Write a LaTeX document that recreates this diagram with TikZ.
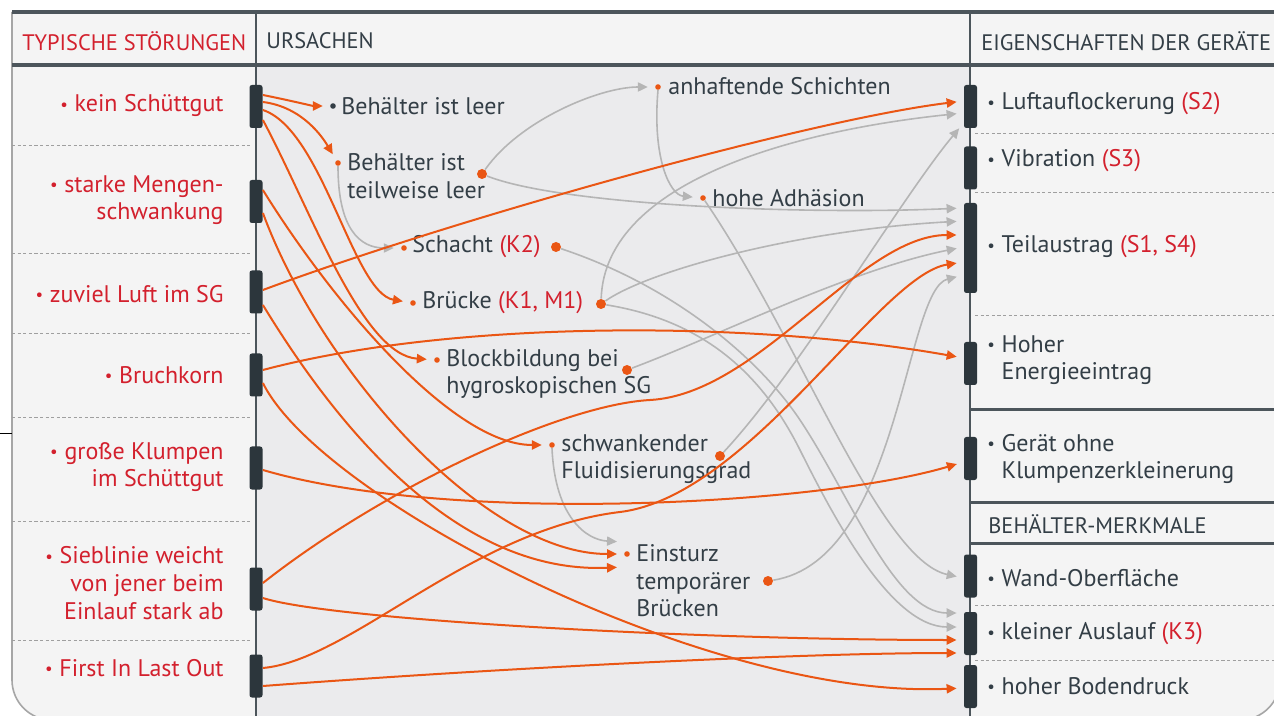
\documentclass[tikz,border=0pt]{standalone}
\usepackage{fontspec}
\setmainfont{PT Sans}
\usetikzlibrary{arrows.meta,positioning}

\definecolor{ink}{HTML}{333E46}
\definecolor{redtxt}{HTML}{D3202D}
\definecolor{flow}{HTML}{EA5614}
\definecolor{cause}{HTML}{B5B5B5}
\definecolor{rulec}{HTML}{4C555B}
\definecolor{panel}{HTML}{F4F4F4}
\definecolor{midpanel}{HTML}{EBEBED}
\definecolor{barc}{HTML}{2C363C}

\newcommand{\bul}{\raisebox{0.12ex}{\scalebox{0.7}{\textbullet}}\hspace{0.28em}}
\newcommand{\kref}[1]{\textcolor{redtxt}{#1}}

\begin{document}
\begin{tikzpicture}[x=0.5pt, y=-0.5pt,
    >={Triangle[length=5pt,width=4.6pt]},
    txt/.style={font=\fontsize{12}{13.8}\selectfont, inner sep=0pt},
    fault/.style={txt, text=redtxt, align=right, anchor=east},
    reason/.style={txt, text=ink, align=left, anchor=west},
    prop/.style={txt, text=ink, align=left, anchor=west},
    hdr/.style={font=\fontsize{11.2}{12}\selectfont, inner sep=0pt, anchor=west, text=ink},
    grip/.style={fill=barc, rounded corners=1.2pt, minimum width=6.5pt, inner sep=0pt, minimum height=#1},
    grip/.default=21.5pt,
    sdot/.style={circle, fill=flow, inner sep=0pt, minimum size=2.8pt},
    port/.style={circle, fill=flow, inner sep=0pt, minimum size=5pt},
    fline/.style={->, draw=flow, line width=1pt, shorten >=3.5pt},
    gline/.style={->, draw=cause, line width=0.8pt, shorten >=3.5pt},
    rowsep/.style={draw=gray!75, line width=0.4pt, dash pattern=on 1.6pt off 1.2pt},
    rule/.style={draw=rulec, line width=#1},
    rule/.default=2pt,
]
  \useasboundingbox (0,0) rectangle (1274,716);
  \clip (0,0) rectangle (1274,716);
  \fill[white] (0,0) rectangle (1274,716);

  % ---------------- frame and columns ----------------
  \path[fill=panel, draw=gray!70, line width=0.8pt, rounded corners=20pt]
       (12,12) -- (12,720) -- (1280,720) -- (1280,12);
  \fill[midpanel] (256,65) rectangle (970,720);
  \draw[black, line width=0.5pt] (0,434) -- (12,434);
  \draw[rule] (12,12) -- (1274,12);
  \draw[rule] (12,65) -- (1274,65);
  \draw[rule=1.4pt] (256,12) -- (256,716);
  \draw[rule=1.4pt] (970,12) -- (970,716);

  % row separators
  \foreach \yy in {145,253,333,417,521,640}
    \draw[rowsep] (12,\yy) -- (252,\yy);
  \foreach \yy in {133,192,315,605,660}
    \draw[rowsep] (975,\yy) -- (1274,\yy);
  \foreach \yy in {410,502,543}
    \draw[rule=1.5pt] (970,\yy) -- (1274,\yy);

  % ---------------- headers ----------------
  \node[hdr, text=redtxt] (h-stoer) at (22,41) {TYPISCHE STÖRUNGEN};
  \node[hdr] (h-urs) at (266,41) {URSACHEN};
  \node[hdr] (h-eig) at (981,41) {EIGENSCHAFTEN DER GERÄTE};
  \node[hdr] (h-beh) at (988,524) {BEHÄLTER-MERKMALE};

  % ---------------- typische Stoerungen ----------------
  \node[fault] (f1) at (224,106) {\bul kein Schüttgut};
  \node[fault] (f2) at (224,200) {\bul starke Mengen-\\schwankung};
  \node[fault] (f3) at (224,294) {\bul zuviel Luft im SG};
  \node[fault] (f4) at (224,375) {\bul Bruchkorn};
  \node[fault] (f5) at (224,467) {\bul große Klumpen\\im Schüttgut};
  \node[fault] (f6) at (224,583) {\bul Sieblinie weicht\\von jener beim\\Einlauf stark ab};
  \node[fault] (f7) at (224,668) {\bul First In Last Out};

  \node[grip] (b1) at (256,106.5) {};
  \node[grip] (b2) at (256,201.5) {};
  \node[grip] (b3) at (256,292) {};
  \node[grip] (b4) at (256,375) {};
  \node[grip] (b5) at (256,468) {};
  \node[grip] (b6) at (256,589) {};
  \node[grip] (b7) at (256,676) {};

  % ---------------- Eigenschaften / Merkmale ----------------
  \node[prop] (e1) at (987,104) {\bul Luftauflockerung \kref{(S2)}};
  \node[prop] (e2) at (987,161) {\bul Vibration \kref{(S3)}};
  \node[prop] (e3) at (987,247) {\bul Teilaustrag \kref{(S1, S4)}};
  \node[prop] (e4) at (987,360) {\bul Hoher\\\hphantom{\bul}Energieeintrag};
  \node[prop] (e5) at (987,459) {\bul Gerät ohne\\\hphantom{\bul}Klumpenzerkleinerung};
  \node[prop] (e6) at (987,578) {\bul Wand-Oberfläche};
  \node[prop] (e7) at (987,634) {\bul kleiner Auslauf \kref{(K3)}};
  \node[prop] (e8) at (987,686) {\bul hoher Bodendruck};

  \node[grip] (r1) at (970.5,106.5) {};
  \node[grip] (r2) at (970.5,168) {};
  \node[grip=45pt] (r3) at (970.5,248) {};
  \node[grip] (r4) at (970.5,363.5) {};
  \node[grip] (r5) at (970.5,458.5) {};
  \node[grip] (r6) at (970.5,576) {};
  \node[grip] (r7) at (970.5,633.5) {};
  \node[grip] (r8) at (970.5,686.5) {};

  % ---------------- Ursachen ----------------
  \node[sdot, fill=ink] (d-leer) at (333,106) {};
  \node[reason] (t-leer) at (341,106) {Behälter ist leer};
  \node[sdot] (d-teil) at (338,163) {};
  \node[reason] (t-teil) at (347,176) {Behälter ist\\teilweise leer};
  \node[sdot] (d-scha) at (404,248) {};
  \node[reason] (t-scha) at (412,247) {Schacht \kref{(K2)}};
  \node[sdot] (d-brue) at (413,303) {};
  \node[reason] (t-brue) at (422,303) {Brücke \kref{(K1, M1)}};
  \node[sdot] (d-block) at (437,360) {};
  \node[reason] (t-block) at (446,374) {Blockbildung bei\\hygroskopischen SG};
  \node[sdot] (d-schw) at (552,445) {};
  \node[reason] (t-schw) at (561,459) {schwankender\\Fluidisierungsgrad};
  \node[sdot] (d-ein) at (627,554) {};
  \node[reason] (t-ein) at (636,581) {Einsturz\\temporärer\\Brücken};
  \node[sdot] (d-anh) at (658,87) {};
  \node[reason] (t-anh) at (668,86) {anhaftende Schichten};
  \node[sdot] (d-adh) at (703,198) {};
  \node[reason] (t-adh) at (712,198) {hohe Adhäsion};

  \node[port] (p-teil) at (482,174) {};
  \node[port] (p-scha) at (556,247) {};
  \node[port] (p-brue) at (601,304) {};
  \node[port] (p-block) at (627,370) {};
  \node[port] (p-schw) at (720,456) {};
  \node[port] (p-ein) at (768,581) {};

  % ---------------- causal links (grey) ----------------
  \draw[gline] (d-teil.south) .. controls +(0,63) and +(-44,0) .. (d-scha);
  \draw[gline] (p-teil) .. controls +(38,-54) and +(-58,0) .. (d-anh);
  \draw[gline] (p-teil) .. controls +(78,31) and +(-164,7) .. ([yshift=20pt]r3.west);
  \draw[gline] (d-anh.south) .. controls +(-6,68) and +(-33,-3) .. (d-adh);
  \draw[gline] (d-adh) .. controls +(97,142) and +(-84,-18) .. ([yshift=-1pt]r6.west);
  \draw[gline] (p-scha) .. controls +(120,40) and +(-40,-60) .. (800,420)
                        .. controls +(50,75) and +(-69,0) .. ([yshift=10.25pt]r7.west);
  \draw[gline] (p-brue) .. controls +(99,16) and +(-40,-80) .. (800,450)
                        .. controls +(30,60) and +(-74,0) .. ([yshift=3.25pt]r7.west);
  \draw[gline] (p-brue) .. controls +(4,-124) and +(-164,17) .. ([yshift=-3.25pt]r1.west);
  \draw[gline] (p-brue) .. controls +(49,-34) and +(-164,9) .. ([yshift=13.5pt]r3.west);
  \draw[gline] (p-block) .. controls +(93,-35) and +(-114,23) .. ([yshift=0.5pt]r3.west);
  \draw[gline] (p-schw) .. controls +(80,-86) and +(-64,77) .. ([yshift=-8.25pt]r1.west);
  \draw[gline] (p-ein) .. controls +(132,-21) and +(-59,15) .. ([yshift=-13.5pt]r3.west);
  \draw[gline] (d-schw.south) .. controls +(3,70) and +(-37,-2) .. ([xshift=-1.5pt,yshift=6pt]d-ein.center);

  % ---------------- Stoerung -> Ursache / Eigenschaft (orange) ----------------
  \draw[fline] ([yshift=5.75pt]b1.east) .. controls +(25,5) and +(-20,0) .. (d-leer);
  \draw[fline] ([yshift=2.25pt]b1.east) .. controls +(40,5) and +(-15,-25) .. (d-teil);
  \draw[fline] ([yshift=-1.75pt]b1.east) .. controls +(60,20) and +(-60,-10) .. (d-brue);
  \draw[fline] ([yshift=-6.75pt]b1.east) .. controls +(48,90) and +(-75,-5) .. (d-block);
  \draw[fline] ([yshift=5.75pt]b2.east) .. controls +(68,110) and +(-100,0) .. (d-schw);
  \draw[fline] ([yshift=-5.75pt]b2.east) .. controls +(58,157) and +(-140,0) .. ([xshift=-1.5pt]d-ein.center);
  \draw[fline] ([yshift=1pt]b3.east) .. controls +(188,-70) and +(-155,19) .. ([yshift=2.75pt]r1.west);
  \draw[fline] ([yshift=-6.5pt]b3.east) .. controls +(58,95) and +(-180,8) .. ([xshift=-1.5pt,yshift=-6.5pt]d-ein.center);
  \draw[fline] ([yshift=2.5pt]b4.east) .. controls +(188,-50) and +(-214,-38) .. ([yshift=2.75pt]r4.west);
  \draw[fline] ([yshift=-4pt]b4.east) .. controls +(58,117) and +(-255,12) .. ([yshift=-0.75pt]r8.west);
  \draw[fline] ([yshift=-1pt]b5.east) .. controls +(188,55) and +(-144,43) .. ([yshift=-1.75pt]r5.west);
  \draw[fline] ([yshift=3pt]b6.east) .. controls +(118,-93) and +(-90,5) .. (650,400)
                                     .. controls +(110,-6) and +(-104,0) .. ([yshift=6.5pt]r3.west);
  \draw[fline] ([yshift=-4.5pt]b6.east) .. controls +(68,22) and +(-264,0) .. ([yshift=-3.25pt]r7.west);
  \draw[fline] ([yshift=4pt]b7.east) .. controls +(88,-8) and +(-150,18) .. (620,512)
                                     .. controls +(130,-16) and +(-84,13) .. ([yshift=-7pt]r3.west);
  \draw[fline] ([yshift=-5pt]b7.east) .. controls +(238,-18) and +(-164,0) .. ([yshift=-9.75pt]r7.west);
\end{tikzpicture}
\end{document}
